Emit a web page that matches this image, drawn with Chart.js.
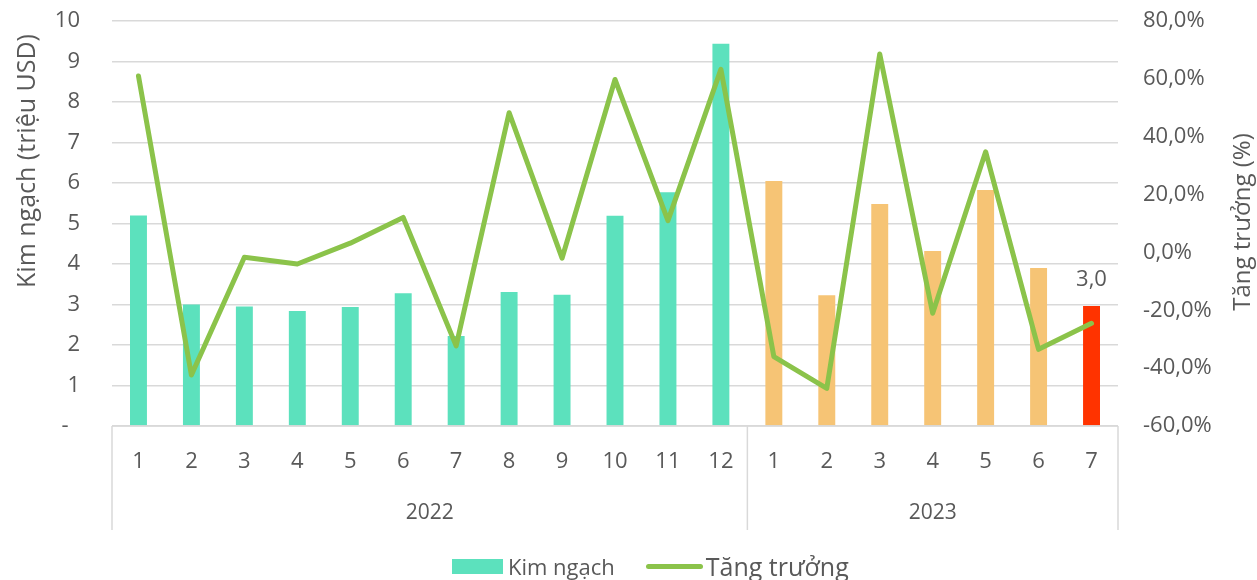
<!DOCTYPE html>
<html>
<head>
<meta charset="utf-8">
<script src="https://cdn.jsdelivr.net/npm/chart.js@4"></script>
<style>
    html, body { margin: 0; padding: 0; background: #fff; }
    #wrap { position: relative; width: 1257px; height: 580px; }
    #legend { position: absolute; left: 452px; top: 549px; display: flex; align-items: center;
        font-family: "Open Sans", sans-serif; color: #595959; white-space: nowrap; }
    .box { display: inline-block; width: 51px; height: 15px; background: #5ce1bd; margin-right: 5px; }
    .ln { display: inline-block; width: 57px; height: 5px; border-radius: 3px; background: #8bc34a; margin: 0 3px 0 31px; }
</style>
</head>
<body>
<div id="wrap">
    <canvas id="chart" width="1257" height="580"></canvas>
    <div id="legend">
        <span class="box"></span><span style="font-size:22px">Kim ngạch</span>
        <span class="ln"></span><span style="font-size:25px">Tăng trưởng</span>
    </div>
</div>
<script>
const months = ['1', '2', '3', '4', '5', '6', '7', '8', '9', '10', '11', '12', '1', '2', '3', '4', '5', '6', '7'];
const years = ['2022', '2022', '2022', '2022', '2022', '2022', '2022', '2022', '2022', '2022', '2022', '2022',
    '2023', '2023', '2023', '2023', '2023', '2023', '2023'];
const kimNgach = [5.2, 3.0, 2.95, 2.84, 2.94, 3.28, 2.22, 3.31, 3.24, 5.19, 5.77, 9.44,
    6.05, 3.23, 5.48, 4.32, 5.83, 3.9, 2.96];
const tangTruong = [61.0, -42.4, -1.7, -4.0, 3.2, 12.1, -32.3, 48.3, -2.0, 59.8, 11.0, 63.3,
    -36.0, -47.0, 68.6, -21.0, 34.8, -33.5, -24.5];

const textColor = '#595959';
const fontFamily = '"Open Sans", sans-serif';

function barColor(i) {
    if (i === kimNgach.length - 1) return '#ff3300';
    return years[i] === '2022' ? '#5ce1bd' : '#f6c475';
}

// nhóm năm, đường phân cách, tiêu đề trục và nhãn cột cuối
const yearGroups = {
    id: 'yearGroups',
    afterDraw(chart) {
        const ctx = chart.ctx;
        const x = chart.scales.x;
        const bottom = chart.chartArea.bottom;
        const groups = [];
        years.forEach((y, i) => {
            const last = groups[groups.length - 1];
            if (last && last.year === y) last.end = i;
            else groups.push({ year: y, start: i, end: i });
        });

        ctx.save();
        ctx.strokeStyle = '#d9d9d9';
        ctx.lineWidth = 1.5;
        ctx.beginPath();
        ctx.moveTo(x.left, bottom);
        ctx.lineTo(x.right, bottom);
        ctx.stroke();

        const seps = [x.left];
        groups.forEach((g, k) => {
            if (k < groups.length - 1) {
                seps.push((x.getPixelForValue(g.end) + x.getPixelForValue(g.end + 1)) / 2);
            }
        });
        seps.push(x.right);
        seps.forEach(px => {
            ctx.beginPath();
            ctx.moveTo(px, bottom);
            ctx.lineTo(px, bottom + 104);
            ctx.stroke();
        });

        ctx.fillStyle = textColor;
        ctx.font = '21px ' + fontFamily;
        ctx.textAlign = 'center';
        ctx.textBaseline = 'middle';
        groups.forEach(g => {
            const cx = (x.getPixelForValue(g.start) + x.getPixelForValue(g.end)) / 2;
            ctx.fillText(g.year, cx, bottom + 87);
        });

        // tiêu đề trục
        ctx.font = '25px ' + fontFamily;
        ctx.save();
        ctx.translate(28, 161);
        ctx.rotate(-Math.PI / 2);
        ctx.fillText('Kim ngạch (triệu USD)', 0, 0);
        ctx.restore();
        ctx.font = '24px ' + fontFamily;
        ctx.save();
        ctx.translate(1243, 222);
        ctx.rotate(-Math.PI / 2);
        ctx.fillText('Tăng trưởng (%)', 0, 0);
        ctx.restore();

        // nhãn giá trị cột cuối
        const meta = chart.getDatasetMeta(1);
        const lastBar = meta.data[meta.data.length - 1];
        const v = kimNgach[kimNgach.length - 1];
        ctx.font = '22px ' + fontFamily;
        ctx.fillText(v.toFixed(1).replace('.', ','), lastBar.x, lastBar.y - 26);
        ctx.restore();
    }
};

const ctx = document.getElementById('chart').getContext('2d');
const chart = new Chart(ctx, {
    type: 'bar',
    data: {
        labels: months,
        datasets: [
            {
                type: 'line',
                label: 'Tăng trưởng',
                data: tangTruong,
                yAxisID: 'y1',
                borderColor: '#8bc34a',
                borderWidth: 5,
                pointRadius: 0,
                tension: 0,
                borderJoinStyle: 'round',
                borderCapStyle: 'round',
                order: 0
            },
            {
                label: 'Kim ngạch',
                data: kimNgach,
                yAxisID: 'y',
                backgroundColor: kimNgach.map((v, i) => barColor(i)),
                barPercentage: 0.32,
                categoryPercentage: 1,
                order: 1
            }
        ]
    },
    options: {
        responsive: false,
        animation: false,
        layout: { padding: { top: 21, bottom: 44, left: 0, right: 0 } },
        plugins: {
            legend: { display: false },
            tooltip: { enabled: false }
        },
        scales: {
            x: {
                grid: { display: false },
                border: { display: false },
                ticks: { color: textColor, font: { family: fontFamily, size: 22 }, padding: 15, maxRotation: 0 },
                afterFit(scale) { scale.height = 110; }
            },
            y: {
                position: 'left',
                min: 0,
                max: 10,
                ticks: {
                    stepSize: 1,
                    color: textColor,
                    font: { family: fontFamily, size: 22 },
                    padding: 32,
                    callback: v => v === 0 ? '-  ' : v
                },
                grid: { color: '#d9d9d9', lineWidth: 1.5, drawTicks: false },
                border: { display: false },
                afterFit(scale) {
                    scale.width = 112;
                    scale.paddingTop = 0;
                    scale.paddingBottom = 0;
                }
            },
            y1: {
                position: 'right',
                min: -60,
                max: 80,
                ticks: {
                    stepSize: 20,
                    color: textColor,
                    font: { family: fontFamily, size: 22 },
                    padding: 25,
                    callback: v => v.toFixed(1).replace('.', ',') + '%'
                },
                grid: { display: false, drawTicks: false },
                border: { display: false },
                afterFit(scale) {
                    scale.width = 139;
                    scale.paddingTop = 0;
                    scale.paddingBottom = 0;
                }
            }
        }
    },
    plugins: [yearGroups]
});
</script>
</body>
</html>
